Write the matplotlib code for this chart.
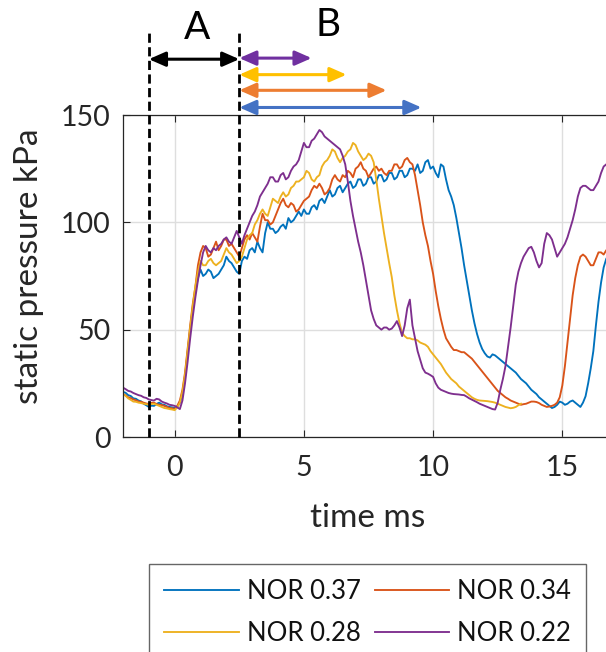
import numpy as np
import matplotlib
matplotlib.use("Agg")
import matplotlib.pyplot as plt

# ---------------- data ----------------
time_ms = np.round(np.arange(-2.0, 16.85, 0.1), 1)   # sampling grid, 189 points

nor_037 = [21, 20.6, 19.5, 19.1, 18, 17.8, 17, 16.6, 15.5, 14.8,
           14, 14.6, 14.5, 15.4, 16, 15.2, 15, 14.3, 14, 13.8,
           13.5, 14.2, 16, 20, 28, 39, 50, 60, 68, 74,
           78, 75, 76, 78, 77, 74, 75, 76, 78, 80,
           84, 82, 81, 79, 77, 76, 82, 84, 83, 87,
           88, 86, 91, 88, 86, 95, 100, 97, 97, 95,
           96, 98, 99, 97, 102, 100, 101, 103, 105, 103,
           106, 104, 104, 107, 108, 106, 110, 111, 109, 112,
           115, 112, 113, 116, 117, 114, 116, 118, 119, 116,
           117, 120, 120, 117, 118, 121, 121, 118, 119, 122,
           122, 119, 120, 123, 123, 120, 121, 124, 124, 121,
           122, 125, 125, 124, 127, 123, 124, 128, 129, 125,
           126, 123, 121, 127, 126, 120, 115, 112, 108, 102,
           95, 88, 80, 73, 66, 59, 53, 48, 44, 41,
           39, 37.5, 37, 38.5, 38, 37, 36, 35, 34, 33,
           32, 31, 30, 28.5, 27, 26, 25, 23.5, 22, 21,
           20, 18.5, 17.5, 16.5, 15.5, 14.5, 13.5, 14, 15, 16.5,
           16, 15, 15.5, 16.5, 17, 16, 15, 14, 16, 19,
           25, 32, 40, 52, 63, 72, 79, 83, 85]

nor_034 = [20, 19.4, 18.5, 18.1, 17.5, 17.1, 16.5, 16.4, 16, 15.6,
           15.4, 15.9, 16, 15.3, 15, 14.9, 14.5, 14, 13.5, 13.4,
           13, 14.5, 17, 22, 30, 41, 52, 62, 70, 80,
           86, 89, 88, 84, 85, 88, 91, 87, 89, 92,
           92, 89, 90, 88, 86, 84, 88, 92, 94, 92,
           95, 93, 91, 98, 104, 101, 101, 99, 100, 103,
           106, 109, 111, 108, 107, 109, 108, 105, 106, 108,
           110, 111, 112, 115, 117, 116, 118, 116, 113, 114,
           116, 120, 122, 120, 119, 122, 121, 124, 123, 121,
           125, 126, 128, 125, 124, 121, 123, 125, 126, 124,
           125, 123, 122, 124, 124, 127, 127, 125, 126, 129,
           130, 128, 127, 122, 115, 108, 100, 94, 89, 82,
           76, 68, 61, 55, 50, 46, 44, 42, 40.5, 40.5,
           40, 39.5, 39.5, 38.5, 37.5, 36.5, 35, 33.5, 32, 30.5,
           29, 27.5, 26, 24.5, 23, 21.5, 20.5, 19.5, 18.5, 17.8,
           17, 16.5, 16, 15.5, 15, 15.3, 15.5, 16, 16.5, 16.5,
           16.3, 15.8, 15, 14.5, 14, 14.2, 14.5, 15, 16, 18.5,
           24, 33, 44, 55, 66, 74, 80, 84, 85, 84,
           82, 80, 80, 83, 86, 86, 85, 87, 87]

nan = np.nan
nor_028 = [20, 19.2, 18, 17.3, 16.5, 16.4, 16, 15.8, 15.5, 15.3,
           15, 15.4, 15.5, 15, 14.5, 14, 13.5, 13.3, 13, 12.8,
           12.5, 13.8, 16, 21, 29, 40, 51, 61, 70, 77,
           82, 80, 80, 82, 83, 81, 80, 81, 82, 85,
           88, 86, 85, 83, 81, 82, 84, 88, 92, 94,
           95, 99, 101, 104, 106, 104, 103, 107, 111, 110,
           109, 112, 114, 112, 113, 116, 117, 119, 119, 120,
           121, 124, 123, 120, 119, 121, 122, 126, 128, 129,
           131, 134, 133, 130, 128, 130, 131, 133, 134, 137,
           136, 133, 131, 129, 130, 132, 131, 128, 120, 111,
           103, 95, 88, 81, 74.5, 66, 59, 53, 48.5, 47,
           46, 46, 45.5, 45.5, 45, 44, 43.5, 43, 42, 40,
           38.5, 37, 35.5, 34, 32, 30, 28.5, 27, 26, 25,
           23.5, 22.5, 21.5, 20.5, 19.5, 18.5, 17.8, 17.3, 17, 16.9,
           16.8, 16.7, 16.5, 16.3, 16, 15.5, 15, 14.5, 14, 13.7,
           13.4, 13.6, 14, 14.8, 15.5, nan, nan, nan, nan, nan,
           nan, nan, nan, nan, nan, nan, nan, nan, nan, nan,
           nan, nan, nan, nan, nan, nan, nan, nan, nan, nan,
           nan, nan, nan, nan, nan, nan, nan, nan, nan]

nor_022 = [23, 22.3, 21.5, 21.2, 20.5, 20, 19.5, 19.2, 18.5, 18.2,
           17.5, 17.2, 17, 17.8, 17.5, 16.5, 16, 15.6, 15, 14.8,
           14.5, 13.8, 13, 17, 25, 35, 46, 56, 65, 73,
           80, 86, 89, 87, 86, 88, 87, 89, 90, 92,
           93, 91, 90, 93, 96, 93, 90, 94, 97, 100,
           103, 105, 108, 112, 114, 116, 118, 121, 121, 119,
           119, 122, 123, 120, 121, 124, 126, 127, 129, 133,
           137, 135, 135, 138, 139, 141, 143, 142, 140, 139,
           138, 137, 136, 135, 134, 131, 127, 119, 110, 103,
           97, 91, 86, 80, 73, 66, 59, 55, 52, 51,
           50, 51, 51, 50, 50.5, 52, 54, 51, 47, 52,
           60, 64, 52, 46, 40, 36, 32, 30, 29.5, 28.8,
           28, 25, 23, 22, 21.5, 21, 20.5, 20.2, 20, 19.9,
           19.8, 19.6, 19.5, 18.8, 18, 17.4, 16.8, 16.2, 15.5, 15,
           14.5, 14, 13.5, 13, 12.8, 16, 22, 27, 33, 42,
           51, 61, 71, 77, 81, 84, 86, 88, 88.6, 86,
           82, 79, 81, 90, 95, 94, 92, 88, 84, 86,
           88, 90, 93, 97, 101, 106, 112, 116, 117, 117,
           116, 115, 115, 117, 119, 123, 126, 127, 128]

series = [nor_037, nor_034, nor_028, nor_022]
labels = ["NOR 0.37", "NOR 0.34", "NOR 0.28", "NOR 0.22"]
line_colors = ["#0072BD", "#D95319", "#EDB120", "#7E2F8E"]

phase_a = (-1.0, 2.5)                      # ms
phase_b_end = [9.55, 8.2, 6.65, 5.3]       # ms, for 0.37, 0.34, 0.28, 0.22
arrow_colors = ["#4472C4", "#ED7D31", "#FFC000", "#7030A0"]

x_ticks = [0, 5, 10, 15]
y_ticks = [0, 50, 100, 150]

# ---------------- plot ----------------
plt.rcParams['font.family'] = ['Lato', 'DejaVu Sans']
fig = plt.figure(figsize=(6.06, 6.52), dpi=100)
W, H = 606, 652
ax_l, ax_r, ax_t, ax_b = 123, 614, 115, 437
ax = fig.add_axes([ax_l / W, 1 - ax_b / H, (ax_r - ax_l) / W, (ax_b - ax_t) / H])

lines = []
for y, lab, c in zip(series, labels, line_colors):
    ln, = ax.plot(time_ms, y, color=c, lw=1.35, label=lab)
    lines.append(ln)

ax.set_xlim(-2, 17)
ax.set_ylim(0, 150)
ax.set_xticks(x_ticks)
ax.set_yticks(y_ticks)
ax.grid(True, color="#dedede", lw=1.0)
ax.set_axisbelow(True)
txtc = "#262626"
ax.tick_params(direction="in", length=5, width=0.8, colors=txtc, labelsize=20.5,
               top=True, right=True)
ax.tick_params(axis="x", pad=13)
ax.tick_params(axis="y", pad=9)
for s in ax.spines.values():
    s.set_color(txtc)
    s.set_linewidth(0.9)

ax.set_xlabel("time ms", fontsize=24, color=txtc, va="top")
ax.xaxis.set_label_coords(0.498, -(503 - 437) / 322)
ax.set_ylabel("static pressure kPa", fontsize=24, color=txtc)
ax.yaxis.set_label_coords((44 - 123) / 491, (437 - 266) / 322)

# dashed phase markers
for xv in phase_a:
    ax.plot([xv, xv], [0, 189], color="black", lw=2.0, dashes=(3.3, 1.6),
            clip_on=False, zorder=5)

# arrows
def darrow(x0, x1, yv, c):
    ax.annotate("", xy=(x1, yv), xytext=(x0, yv), annotation_clip=False,
                arrowprops=dict(arrowstyle="<|-|>,head_length=0.5,head_width=0.22",
                                color=c, lw=2.2, shrinkA=0, shrinkB=0,
                                mutation_scale=20))

darrow(phase_a[0], phase_a[1], 176, "black")
arrow_y = [153.5, 161.5, 168.8, 176.5]
for xe, yv, c in zip(phase_b_end, arrow_y, arrow_colors):
    darrow(phase_a[1], xe, yv, c)

ax.text(0.88, 190.5, "A", fontsize=28, ha="center", va="center", color="black",
        clip_on=False)
ax.text(5.95, 192, "B", fontsize=28, ha="center", va="center", color="black",
        clip_on=False)

order = [0, 2, 1, 3]
leg = fig.legend([lines[i] for i in order], [labels[i] for i in order],
                 loc="upper left", bbox_to_anchor=(149 / W, 1 - 564 / H),
                 ncol=2, fontsize=18.5, frameon=True, fancybox=False,
                 handlelength=2.9, handletextpad=0.3, columnspacing=0.55,
                 labelspacing=0.65, borderpad=0.6, borderaxespad=0)
leg.get_frame().set_edgecolor("#404040")
leg.get_frame().set_linewidth(1.0)
for t in leg.get_texts():
    t.set_color("#111111")

fig.savefig("out.png", dpi=100)
